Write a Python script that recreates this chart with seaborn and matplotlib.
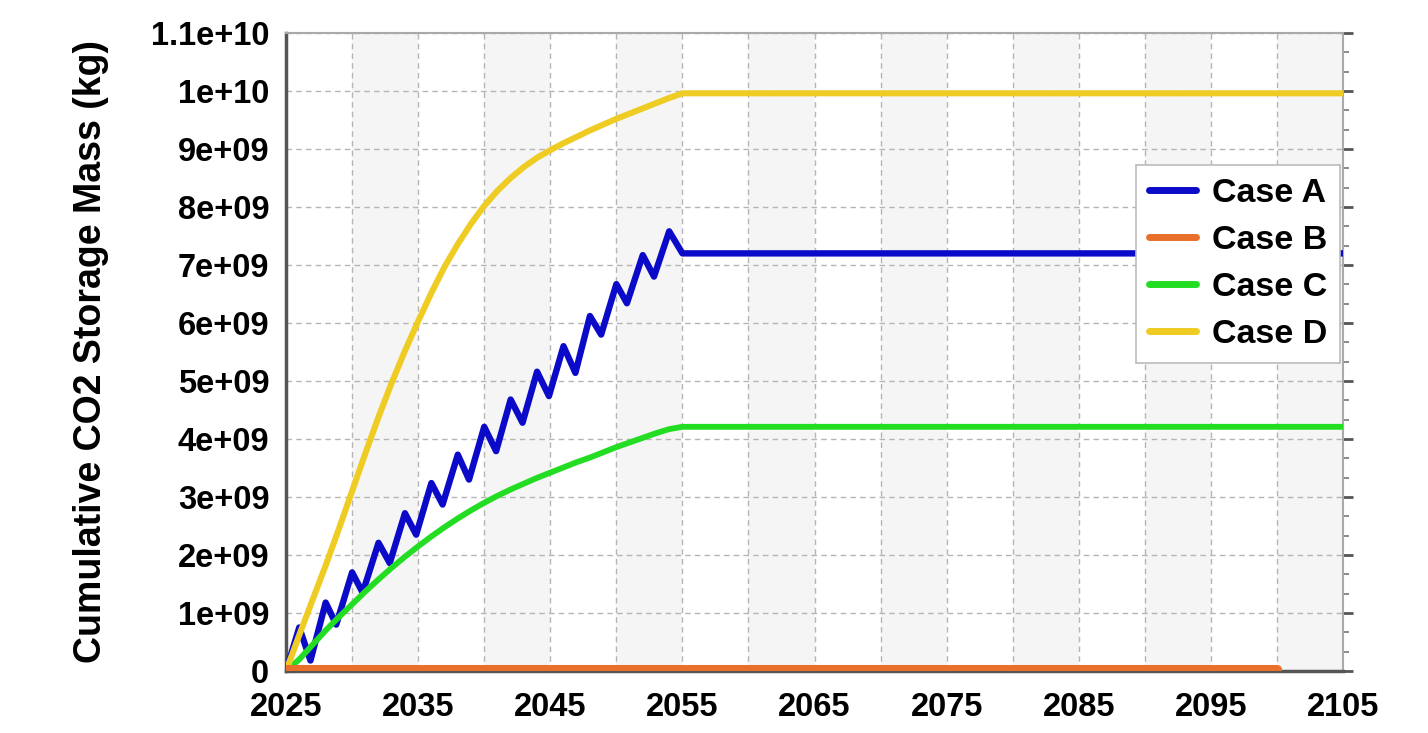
import numpy as np
import pandas as pd
import matplotlib
matplotlib.use("Agg")
import matplotlib.pyplot as plt
from matplotlib.ticker import AutoMinorLocator, FixedLocator
import seaborn as sns

# Cumulative CO2 storage per case (values in 1e9 kg)
years_a = [2025, 2026, 2026.85, 2028, 2028.8, 2030, 2030.8, 2032, 2032.85, 2034,
           2034.85, 2036, 2036.85, 2038, 2038.85, 2040, 2040.9, 2042, 2042.9, 2044,
           2044.9, 2046, 2046.9, 2048, 2048.85, 2050, 2050.8, 2052, 2052.85, 2054,
           2055, 2105]
mass_a = [0, 0.75, 0.18, 1.18, 0.80, 1.70, 1.35, 2.21, 1.86, 2.72,
          2.35, 3.24, 2.87, 3.73, 3.30, 4.21, 3.79, 4.68, 4.28, 5.16,
          4.74, 5.60, 5.14, 6.12, 5.80, 6.67, 6.34, 7.17, 6.80, 7.58,
          7.20, 7.20]

years_b = [2025, 2100]
mass_b = [0.03, 0.03]

years_c = [2025, 2026, 2027, 2028, 2029, 2030, 2031, 2032, 2033, 2034, 2035, 2036,
           2037, 2038, 2039, 2040, 2041, 2042, 2043, 2044, 2045, 2046, 2047, 2048,
           2049, 2050, 2051, 2052, 2053, 2054, 2055, 2105]
mass_c = [0, 0.20, 0.45, 0.70, 0.93, 1.15, 1.37, 1.58, 1.78, 1.97, 2.15, 2.32,
          2.48, 2.63, 2.77, 2.90, 3.02, 3.13, 3.23, 3.33, 3.42, 3.51, 3.60, 3.68,
          3.77, 3.86, 3.94, 4.02, 4.10, 4.17, 4.21, 4.21]

years_d = [2025, 2026, 2027, 2028, 2029, 2030, 2031, 2032, 2033, 2034, 2035, 2036,
           2037, 2038, 2039, 2040, 2041, 2042, 2043, 2044, 2045, 2046, 2047, 2048,
           2049, 2050, 2051, 2052, 2053, 2054, 2055, 2105]
mass_d = [0, 0.62, 1.22, 1.82, 2.45, 3.10, 3.75, 4.38, 4.97, 5.52, 6.03, 6.52,
          6.97, 7.36, 7.71, 8.02, 8.28, 8.50, 8.69, 8.85, 8.98, 9.10, 9.21, 9.32,
          9.42, 9.52, 9.61, 9.70, 9.79, 9.88, 9.96, 9.96]

cases = ["Case A", "Case B", "Case C", "Case D"]
colors = {"Case A": "#0a0ac8", "Case B": "#e8702a", "Case C": "#22dd22", "Case D": "#efcc24"}
widths = {"Case A": 4.6, "Case B": 6.5, "Case C": 4.2, "Case D": 4.4}

frames = []
for name, yrs, vals in [("Case A", years_a, mass_a), ("Case B", years_b, mass_b),
                        ("Case C", years_c, mass_c), ("Case D", years_d, mass_d)]:
    frames.append(pd.DataFrame({"Year": yrs, "Mass": np.array(vals) * 1e9, "Case": name}))
df = pd.concat(frames, ignore_index=True)

sns.set_style("white")
plt.rcParams["font.family"] = ["Liberation Sans", "DejaVu Sans"]
plt.rcParams["font.weight"] = "bold"
plt.rcParams["text.color"] = "black"
plt.rcParams["axes.labelcolor"] = "black"
plt.rcParams["xtick.labelcolor"] = "black"
plt.rcParams["ytick.labelcolor"] = "black"

fig = plt.figure(figsize=(14.28, 7.33), dpi=100)
ax = fig.add_axes([0.2003, 0.0846, 0.7402, 0.8704])

# alternating shaded bands every other 5-year interval
for start in range(2030, 2105, 10):
    ax.axvspan(start, start + 5, color="#f5f5f5", zorder=0, lw=0)

draw_order = ["Case A", "Case C", "Case D", "Case B"]
for name in draw_order:
    sub = df[df["Case"] == name]
    sns.lineplot(data=sub, x="Year", y="Mass", ax=ax, color=colors[name],
                 lw=widths[name], label=name, estimator=None, sort=False,
                 zorder=3, solid_joinstyle="round")

ax.set_xlim(2025, 2105)
ax.set_ylim(0, 1.1e10)

xt = list(range(2025, 2106, 5))
ax.xaxis.set_major_locator(FixedLocator(xt))
ax.set_xticklabels([str(t) if (t - 2025) % 10 == 0 else "" for t in xt])
yt = [i * 1e9 for i in range(12)]
ax.yaxis.set_major_locator(FixedLocator(yt))
ax.set_yticklabels([f"{v:g}" for v in yt])
ax.yaxis.set_minor_locator(AutoMinorLocator(3))

ax.grid(True, which="major", ls=(0, (4, 3)), color="#b5b5b5", lw=1.0, zorder=1)
ax.set_axisbelow(True)

ax.tick_params(axis="both", which="major", labelsize=23.5, length=7, width=2,
               color="#555555", direction="out")
ax.tick_params(axis="x", which="major", pad=8)
ax.tick_params(axis="y", which="major", pad=5, right=True)
ax.tick_params(axis="y", which="minor", length=4, width=1.2, color="#777777",
               direction="out", right=True)
for lab in ax.get_xticklabels() + ax.get_yticklabels():
    lab.set_fontweight("bold")

for side in ["left", "bottom"]:
    ax.spines[side].set_color("#555555")
    ax.spines[side].set_linewidth(2.5)
for side in ["top", "right"]:
    ax.spines[side].set_color("#aaaaaa")
    ax.spines[side].set_linewidth(1.5)

ax.set_xlabel("")
ax.set_ylabel("Cumulative CO2 Storage Mass (kg)", fontsize=27, fontweight="bold",
              labelpad=30)

handles, labels = ax.get_legend_handles_labels()
order = [labels.index(c) for c in cases]
leg = ax.legend([handles[i] for i in order], [labels[i] for i in order],
                loc="upper right", bbox_to_anchor=(0.997, 0.793), borderaxespad=0,
                fontsize=24.5, frameon=True, fancybox=False, framealpha=1,
                handlelength=1.4, handletextpad=0.45, labelspacing=0.47,
                borderpad=0.38)
leg.get_frame().set_edgecolor("#bbbbbb")
leg.get_frame().set_linewidth(1.2)
for t in leg.get_texts():
    t.set_fontweight("bold")
for h in leg.get_lines():
    h.set_linewidth(5)

fig.savefig("out.png", dpi=100, facecolor="white")
